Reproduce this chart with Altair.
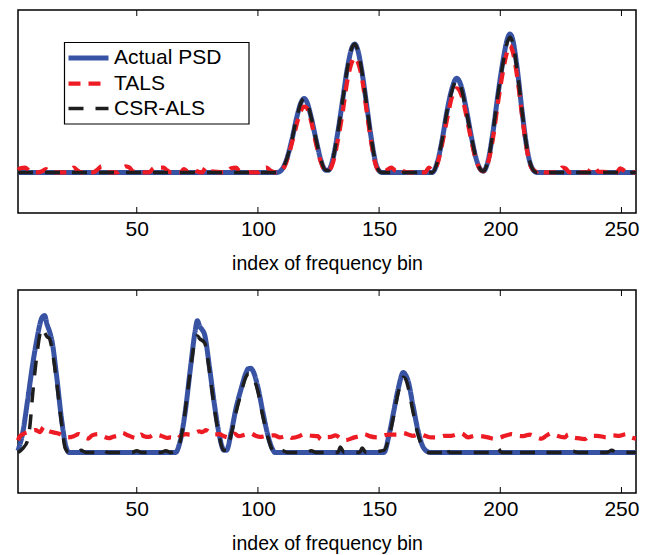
import altair as alt
import pandas as pd

SERIES = ["Actual PSD", "TALS", "CSR-ALS"]
COLORS = ["#3953a4", "#ed1c24", "#1e1e1e"]
DASHES = [[1, 0], [12, 8], [15, 12]]
WIDTHS = [5, 3.5, 4]
X_TICKS = [50, 100, 150, 200, 250]
X_TITLE = "index of frequency bin"

# ---- top panel (bin, value) ----
top_psd = [(1, 0), (108, 0), (110, 0.08), (112, 0.35), (114, 0.8), (116, 1.35), (118, 1.75), (119, 1.82),
           (120, 1.76), (122, 1.35), (124, 0.8), (126, 0.3), (128, 0.05), (129, 0.05), (131, 0.35), (133, 1.0),
           (135, 1.8), (137, 2.6), (139, 3.1), (140, 3.16), (141, 3.05), (143, 2.45), (145, 1.6), (147, 0.75),
           (149, 0.15), (151, 0), (172, 0), (174, 0.25), (176, 0.8), (178, 1.5), (180, 2.05), (182, 2.32),
           (184, 2.1), (186, 1.55), (188, 0.9), (190, 0.35), (192, 0.06), (193, 0.03), (195, 0.3), (197, 1.0),
           (199, 1.9), (201, 2.7), (203, 3.3), (204, 3.41), (205, 3.3), (207, 2.55), (209, 1.5), (211, 0.6),
           (213, 0.12), (215, 0), (256, 0)]

top_csr = [(1, 0), (108, 0), (110, 0.08), (112, 0.35), (114, 0.8), (116, 1.35), (118, 1.75), (119, 1.82),
           (120, 1.76), (122, 1.35), (124, 0.8), (126, 0.3), (128, 0.05), (129, 0.05), (131, 0.35), (133, 1.0),
           (135, 1.8), (137, 2.6), (139, 3.1), (140, 3.16), (141, 3.05), (143, 2.45), (145, 1.6), (147, 0.75),
           (149, 0.15), (151, 0), (172, 0), (174, 0.25), (176, 0.8), (178, 1.5), (180, 2.0), (182, 2.27),
           (184, 2.05), (186, 1.5), (188, 0.9), (190, 0.35), (192, 0.06), (193, 0.03), (195, 0.3), (197, 1.0),
           (199, 1.9), (201, 2.65), (203, 3.22), (204, 3.33), (205, 3.22), (207, 2.5), (209, 1.5), (211, 0.6),
           (213, 0.12), (215, 0), (256, 0)]

top_tals = [(1, 0.06), (2, 0.1), (4, 0.12), (6, 0.02), (9, 0), (11, 0.03), (12.5, 0.08), (14, 0.02), (16, 0),
            (21, 0), (23, 0.08), (24, 0.12), (25.5, 0.05), (27, 0), (32, 0), (34, 0.08), (35.5, 0.15), (37, 0.05),
            (39, 0), (42, 0), (44, 0.1), (45.5, 0.15), (47, 0.12), (48.5, 0.02), (55, 0), (57, 0.1), (59, 0.12),
            (61, 0.12), (62.5, 0.05), (64, 0), (68, 0), (69.5, 0.08), (71, 0.02), (73, 0.1), (74.5, 0.04), (77, 0),
            (78.5, 0.12), (80, 0.03), (87, 0), (89, 0.1), (91, 0.12), (92.5, 0.02), (100, 0), (102, 0.1),
            (103.5, 0.12), (105, 0.05), (107, 0), (109, 0.02), (111, 0.15), (113, 0.5), (115, 0.95), (117, 1.4),
            (119, 1.62), (120, 1.6), (122, 1.25), (124, 0.7), (126, 0.25), (128, 0.04), (129, 0.04), (131, 0.25),
            (133, 0.8), (135, 1.5), (137, 2.3), (139, 2.75), (140, 2.83), (141, 2.75), (143, 2.3), (145, 1.45),
            (147, 0.65), (149, 0.12), (151, 0), (153, 0.05), (155, 0.12), (157, 0.04), (158.5, 0.1), (160, 0.03),
            (162, 0), (169, 0), (170.5, 0.12), (172, 0.05), (174, 0.2), (176, 0.7), (178, 1.3), (180, 1.85),
            (182, 2.07), (184, 1.9), (186, 1.4), (188, 0.8), (190, 0.3), (192, 0.06), (193, 0.03), (195, 0.25),
            (197, 0.85), (199, 1.7), (201, 2.45), (203, 3.0), (204, 3.12), (205, 3.0), (207, 2.35), (209, 1.4),
            (211, 0.55), (213, 0.1), (215, 0.02), (216.5, 0.08), (218, 0), (224, 0), (225.5, 0.12), (227, 0.1),
            (228.5, 0), (236, 0), (237.5, 0.1), (239, 0.12), (240.5, 0.02), (248, 0), (249.5, 0.1), (251, 0.05),
            (253, 0), (256, 0)]

# ---- bottom panel (bin, value) ----
bot_psd = [(1, 0.04), (3, 0.5), (5, 1.3), (7, 2.15), (9, 2.85), (10, 3.15), (11, 3.33), (12, 3.37), (13, 3.15),
           (14, 2.98), (15, 2.75), (17, 1.85), (19, 0.8), (21, 0.1), (22, 0), (66, 0), (68, 0.3), (70, 1.0),
           (72, 2.0), (74, 2.95), (75, 3.24), (76, 3.1), (77, 3.02), (78, 2.9), (80, 2.1), (82, 1.2), (84, 0.45),
           (86, 0.05), (87, 0.05), (89, 0.5), (91, 1.1), (93, 1.55), (95, 1.95), (96, 2.06), (97, 2.07), (98, 2.0),
           (100, 1.6), (102, 1.0), (104, 0.45), (106, 0.08), (107, 0), (152, 0), (154, 0.4), (156, 1.0),
           (158, 1.6), (160, 1.97), (161, 1.9), (162, 1.75), (164, 1.15), (166, 0.55), (168, 0.15), (170, 0.02),
           (171, 0), (256, 0)]

bot_csr = [(1, 0), (3, 0.1), (5, 0.3), (6, 0.7), (7, 1.4), (8, 2.0), (9, 2.5), (10, 2.9), (11, 3.06), (12, 2.95),
           (13, 2.85), (14, 2.8), (15, 2.55), (17, 1.7), (19, 0.7), (20.5, 0.1), (22, 0), (25, 0), (27, 0.05),
           (29, 0), (34, 0), (36, 0.06), (38, 0), (48, 0), (50, 0.04), (52, 0), (60, 0), (62, 0.04), (64, 0),
           (67, 0.1), (69, 0.6), (71, 1.5), (73, 2.4), (74, 2.8), (75, 2.87), (76, 2.8), (78, 2.7), (80, 2.0),
           (82, 1.1), (84, 0.4), (86, 0.05), (87, 0.05), (89, 0.45), (91, 1.0), (93, 1.45), (95, 1.85),
           (96, 1.93), (97, 1.93), (98, 1.85), (100, 1.5), (102, 0.9), (104, 0.4), (106, 0.05), (107, 0),
           (110, 0.05), (112, 0), (120, 0), (122, 0.04), (124, 0), (133, 0), (134, 0.13), (135.5, 0), (142, 0),
           (143, 0.11), (144.5, 0), (152, 0.05), (154, 0.35), (156, 0.9), (158, 1.5), (160, 1.85), (161, 1.8),
           (162, 1.6), (164, 1.0), (166, 0.45), (168, 0.12), (170, 0), (176, 0), (177.5, 0.15), (179, 0),
           (197, 0), (199, 0.1), (200.5, 0), (205, 0), (206, 0.1), (207.5, 0), (215, 0), (217, 0.04), (219, 0),
           (228, 0), (230, 0.03), (232, 0), (244, 0), (246, 0.05), (248, 0), (256, 0)]

bot_tals = [(1, 0.3), (1.5, 0.37), (3, 0.45), (5, 0.5), (8.3, 0.55), (10, 0.5), (11.7, 0.63), (13, 0.55),
            (15, 0.5), (17.9, 0.46), (19.5, 0.42), (21.3, 0.37), (24, 0.4), (26, 0.45), (28.3, 0.37), (30, 0.34),
            (31.6, 0.42), (34, 0.45), (36, 0.4), (38.6, 0.35), (40, 0.38), (42.7, 0.42), (44, 0.48), (46, 0.43),
            (48, 0.38), (50.3, 0.35), (51.7, 0.44), (53, 0.4), (55, 0.38), (57.2, 0.44), (60, 0.41), (62.5, 0.36),
            (64, 0.37), (66.8, 0.34), (68, 0.4), (70.3, 0.45), (72, 0.44), (74, 0.48), (75.8, 0.52), (77, 0.5),
            (78.6, 0.55), (80, 0.5), (82, 0.44), (84, 0.45), (86, 0.4), (88, 0.37), (90.3, 0.46), (92, 0.4),
            (94.8, 0.44), (97, 0.47), (99, 0.41), (101, 0.38), (103, 0.4), (106.8, 0.42), (109, 0.37),
            (112.3, 0.41), (114, 0.36), (117, 0.4), (119, 0.45), (121, 0.42), (124.7, 0.4), (126, 0.32),
            (127.4, 0.37), (130, 0.38), (132, 0.42), (134, 0.35), (136, 0.3), (139.8, 0.37), (142.5, 0.41),
            (144, 0.45), (146, 0.4), (149.5, 0.37), (151.6, 0.41), (154, 0.44), (157.7, 0.44), (159.8, 0.48),
            (162, 0.44), (164, 0.41), (166.7, 0.45), (169, 0.41), (171.5, 0.37), (174, 0.37), (177, 0.41),
            (179.8, 0.41), (182.5, 0.45), (184, 0.47), (186.7, 0.37), (189.5, 0.41), (192, 0.4), (194.9, 0.37),
            (197.7, 0.33), (200, 0.37), (202, 0.41), (204.6, 0.45), (207.3, 0.41), (209.5, 0.4), (212.2, 0.44),
            (215, 0.37), (217, 0.34), (219, 0.41), (221, 0.47), (223, 0.42), (226.6, 0.37), (228, 0.44),
            (230, 0.37), (232, 0.35), (234.9, 0.33), (237, 0.41), (240, 0.41), (243.8, 0.37), (246.6, 0.42),
            (249, 0.41), (252, 0.45), (254, 0.37), (256, 0.34)]

W, H = 618, 203
FONT = "Liberation Sans"


def to_df(pairs, name):
    return pd.DataFrame({"bin": [p[0] for p in pairs], "psd": [p[1] for p in pairs], "series": name})


X_AXIS = alt.Axis(values=X_TICKS, title=X_TITLE, labelFontSize=21, titleFontSize=19.5,
                  labelFont=FONT, titleFont=FONT, titleFontWeight="normal", labelColor="black",
                  titleColor="black", domain=False, ticks=False, grid=False, labelPadding=5,
                  titlePadding=15, labelFlush=False)
X_SCALE = alt.Scale(domain=[1, 256], nice=False, zero=False)
Y_SCALE = alt.Scale(domain=[-1, 4], nice=False, zero=False)


def panel(pairs_list, show_legend):
    df = pd.concat([to_df(p, s) for p, s in zip(pairs_list, SERIES)], ignore_index=True)
    if show_legend:
        leg = alt.Legend(orient="none", legendX=43, legendY=30.5, title=None, strokeColor="transparent",
                         padding=5, labelFontSize=21, labelFont=FONT,
                         labelColor="black", symbolType="M-1,0H3", symbolSize=400, labelOffset=23,
                         rowPadding=2.5)
    else:
        leg = None
    base = alt.Chart(df).encode(
        x=alt.X("bin:Q", scale=X_SCALE, axis=X_AXIS),
        y=alt.Y("psd:Q", scale=Y_SCALE, axis=None),
        color=alt.Color("series:N", scale=alt.Scale(domain=SERIES, range=COLORS), legend=leg),
        strokeDash=alt.StrokeDash("series:N", scale=alt.Scale(domain=SERIES, range=DASHES), legend=leg),
        strokeWidth=alt.StrokeWidth("series:N", scale=alt.Scale(domain=SERIES, range=WIDTHS), legend=leg),
    )
    lines = [base.transform_filter(alt.datum.series == s).mark_line(interpolate="monotone", strokeCap="butt",
                                                                     strokeJoin="round")
             for s in SERIES]
    ticks_df = pd.DataFrame({"bin": X_TICKS})
    tick_top = alt.Chart(ticks_df).mark_rule(color="black", strokeWidth=1).encode(
        x=alt.X("bin:Q", scale=X_SCALE, axis=X_AXIS), y=alt.value(0), y2=alt.value(6))
    tick_bot = alt.Chart(ticks_df).mark_rule(color="black", strokeWidth=1).encode(
        x=alt.X("bin:Q", scale=X_SCALE, axis=X_AXIS), y=alt.value(H - 6), y2=alt.value(H))
    layers = []
    if show_legend:
        box = alt.Chart(pd.DataFrame({"k": [0]})).mark_rect(
            fill="white", stroke="black", strokeWidth=1.2
        ).encode(x=alt.value(46.5), x2=alt.value(231), y=alt.value(32.5), y2=alt.value(114))
        layers.append(box)
    layers += lines + [tick_top, tick_bot]
    return alt.layer(*layers).properties(width=W, height=H)


top = panel([top_psd, top_tals, top_csr], True)
bottom = panel([bot_psd, bot_tals, bot_csr], False)

chart = alt.vconcat(top, bottom, spacing=14).resolve_scale(
    color="independent", strokeDash="independent", strokeWidth="independent"
).resolve_legend(
    color="independent", strokeDash="independent", strokeWidth="independent"
).properties(
    padding={"left": 6, "top": 0, "right": 0, "bottom": 0}
).configure_view(stroke="black", strokeWidth=1.5)

chart.save("out.html", embed_options={"renderer": "svg", "actions": False})
